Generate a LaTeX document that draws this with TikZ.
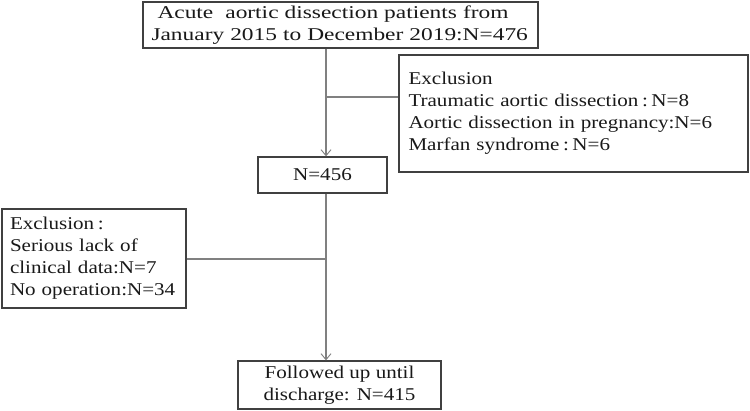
\documentclass[tikz,border=0pt]{standalone}
\usepackage{fontspec}
\setmainfont{Liberation Serif}[FakeStretch=1.17]
\newfontfamily\widefont{Liberation Serif}[FakeStretch=1.30]
\usetikzlibrary{arrows.meta}
\newcommand{\fcol}{\makebox[0.72em]{:}}
\begin{document}
\begin{tikzpicture}[x=1pt,y=-1pt,
  box/.style={draw=black!75,line width=1.3pt,inner sep=0pt,font=\fontsize{18}{22}\selectfont,text=black!90},
  conn/.style={draw=black!50,line width=1.1pt},
  arr/.style={conn,-{Straight Barb[length=6pt,width=10pt,line width=0.9pt]}}]
\useasboundingbox[fill=white] (0,0) rectangle (750,410);
\node[box,minimum width=395pt,minimum height=46pt,text width=378pt,align=left,font=\widefont\fontsize{18}{22}\selectfont] (start) at (340.5,25)
  {\ Acute\ \ aortic dissection patients from\\January 2015 to December 2019:N=476};
\node[box,minimum width=349pt,minimum height=117pt,text width=330pt,align=left] (ex1) at (573.5,113.5)
  {Exclusion\\Traumatic aortic dissection\fcol N=8\\Aortic dissection in pregnancy:N=6\\Marfan syndrome\fcol N=6};
\node[box,minimum width=129pt,minimum height=36pt,align=center] (mid) at (322.5,175) {N=456};
\node[box,minimum width=184pt,minimum height=99pt,text width=168pt,align=left] (ex2) at (94,258.5)
  {Exclusion\fcol\\Serious lack of\\clinical data:N=7\\No operation:N=34};
\node[box,minimum width=203pt,minimum height=48pt,align=center] (end) at (339.5,385)
  {Followed up until\\discharge: N=415};
\coordinate (spine) at (326,0);
\coordinate (j1) at (326,97);
\coordinate (j2) at (326,259);
\draw[arr] (start.south -| spine) -- (mid.north -| spine);
\draw[conn] (j1) -- (ex1.west |- j1);
\draw[arr] (mid.south -| spine) -- (end.north -| spine);
\draw[conn] (ex2.east |- j2) -- (j2);
\end{tikzpicture}
\end{document}
